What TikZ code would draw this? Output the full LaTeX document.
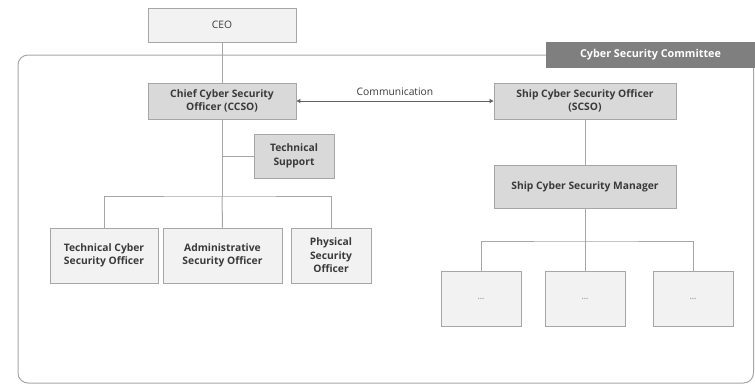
\documentclass[tikz,border=0pt]{standalone}
\usepackage{fontspec}
\setmainfont{Open Sans}
\usetikzlibrary{arrows.meta}
\definecolor{edge}{HTML}{A6A6A6}
\definecolor{lightfill}{HTML}{F2F2F2}
\definecolor{midfill}{HTML}{D9D9D9}
\definecolor{tabfill}{HTML}{7F7F7F}
\definecolor{ink}{HTML}{3A3A3A}
\tikzset{
  box/.style={draw=edge, line width=0.9pt, rectangle, align=center, inner sep=1pt,
              text=ink, font=\fontsize{10.3}{13.5}\selectfont},
  plainbox/.style={box, fill=lightfill},
  rolebox/.style={box, fill=midfill, font=\fontsize{10.3}{13.5}\selectfont\bfseries},
  subbox/.style={box, fill=lightfill, font=\fontsize{10.3}{13.5}\selectfont\bfseries},
  dotbox/.style={plainbox, minimum width=80pt, minimum height=55pt,
                 font=\fontsize{8}{9}\selectfont\bfseries, text=edge},
  tab/.style={rectangle, fill=tabfill, text=white, inner sep=1pt,
              font=\fontsize{10.8}{13}\selectfont\bfseries},
  wire/.style={draw=edge, line width=1pt},
  frame/.style={draw=edge, line width=1pt, rounded corners=10pt}
}
\begin{document}
\begin{tikzpicture}[x=1pt,y=-1pt]
\useasboundingbox (0,0) rectangle (755,384);

% committee frame and its title tab
\draw[frame] (546,55) -- (18,55) -- (18,383) -- (753.5,383) -- (753.5,68);
\node[tab, minimum width=209pt, minimum height=26pt] (csc) at (650.5,55) {Cyber Security Committee};

% top of the hierarchy
\node[plainbox, minimum width=148pt, minimum height=34pt] (ceo) at (222,25) {CEO};
\node[rolebox, minimum width=148pt, minimum height=36pt] (ccso) at (222,101) {Chief Cyber Security\\Officer (CCSO)};
\node[rolebox, minimum width=80pt, minimum height=44pt] (ts) at (294,156) {Technical\\Support};

% officers under the CCSO
\node[subbox, minimum width=108pt, minimum height=55pt] (tcso) at (104,255.5) {Technical Cyber\\Security Officer};
\node[subbox, minimum width=119pt, minimum height=55pt] (aso) at (222.5,255.5) {Administrative\\Security Officer};
\node[subbox, minimum width=80pt, minimum height=55pt] (pso) at (331,255.5) {Physical\\Security\\Officer};

% ship side
\node[rolebox, minimum width=182pt, minimum height=36pt] (scso) at (585,101) {Ship Cyber Security Officer\\(SCSO)};
\node[rolebox, minimum width=182pt, minimum height=43pt] (scsm) at (585,186.5) {Ship Cyber Security Manager};
\node[dotbox] (s1) at (481,298.5) {...};
\node[dotbox] (s2) at (585,298.5) {...};
\node[dotbox] (s3) at (693,298.5) {...};

% junction points
\coordinate (jl) at (222,196);
\coordinate (jt) at (222,156);
\coordinate (jr) at (585,241);

% connectors
\draw[wire] (ceo.south) -- (ccso.north);
\draw[wire] (ccso.south) -- (jl);
\draw[wire] (jt) -- (ts.west);
\draw[wire] (tcso.north) |- (jl) -| (pso.north);
\draw[wire] (aso.north) -- (jl);
\draw[wire, {Triangle[length=4pt,width=4pt]}-{Triangle[length=4pt,width=4pt]}, draw=ink!80]
  (ccso.east) -- node[above=2pt, text=ink, font=\fontsize{10.3}{13.5}\selectfont] {Communication} (scso.west);
\draw[wire] (scso.south) -- (scsm.north);
\draw[wire] (scsm.south) -- (jr);
\draw[wire] (s1.north) |- (jr) -| (s3.north);
\draw[wire] (s2.north) -- (jr);
\end{tikzpicture}
\end{document}
